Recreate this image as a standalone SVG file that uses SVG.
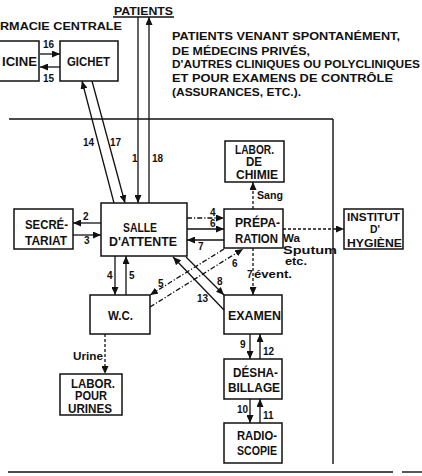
<svg xmlns="http://www.w3.org/2000/svg" width="422" height="476" viewBox="0 0 422 476">
<style>
text{font-family:"Liberation Sans","Arial",sans-serif;fill:#111;font-weight:bold}
.t{font-size:12px}
.tl{font-size:13px}
.ti{font-size:10.5px}
.b{font-size:11px}
.n{font-size:10px}
.s{font-size:10.5px}
rect{fill:#fff;stroke:#111;stroke-width:1.5}
line{stroke:#111;stroke-width:1.3;fill:none}
.dd{stroke-dasharray:5 2 1.2 2}
.da{stroke-dasharray:3 2}
.fr{stroke:#111;stroke-width:1.4}
</style>
<defs>
<marker id="ah" viewBox="0 0 8 7" refX="8" refY="3.5" markerWidth="8" markerHeight="7" markerUnits="userSpaceOnUse" orient="auto"><path d="M0,0 L8,3.5 L0,7 z" fill="#111"/></marker>
</defs>

<g id="frame">
<line class="fr" x1="9" y1="119" x2="333" y2="119"/>
<line class="fr" x1="333" y1="119" x2="333" y2="464"/>
<line class="fr" x1="8" y1="472" x2="393" y2="472"/>
<line class="fr" x1="402" y1="472" x2="422" y2="472"/>
</g>

<g id="header">
<text class="b" x="0" y="30" textLength="122" lengthAdjust="spacingAndGlyphs">RMACIE CENTRALE</text>
<text class="b" x="114" y="14.5" textLength="59" lengthAdjust="spacingAndGlyphs">PATIENTS</text>
<line x1="113" y1="17" x2="174" y2="17"/>
<text class="b" x="172" y="40" textLength="228" lengthAdjust="spacingAndGlyphs">PATIENTS VENANT  SPONTANÉMENT,</text>
<text class="b" x="172" y="54.5" textLength="138" lengthAdjust="spacingAndGlyphs">DE MÉDECINS PRIVÉS,</text>
<text class="b" x="172" y="68" textLength="248" lengthAdjust="spacingAndGlyphs">D'AUTRES CLINIQUES OU POLYCLINIQUES</text>
<text class="b" x="172" y="82" textLength="221" lengthAdjust="spacingAndGlyphs">ET POUR EXAMENS DE CONTRÔLE</text>
<text class="b" x="172" y="95.5" textLength="129" lengthAdjust="spacingAndGlyphs">(ASSURANCES, ETC.).</text>
</g>

<g id="pharmacie">
<rect x="-10" y="41" width="49" height="40"/>
<text class="t" x="2" y="65.5" textLength="35" lengthAdjust="spacingAndGlyphs">ICINE</text>
</g>
<g id="gichet">
<rect x="60" y="41" width="58" height="40"/>
<text class="t" x="67" y="65.5" textLength="43" lengthAdjust="spacingAndGlyphs">GICHET</text>
</g>
<g id="secretariat">
<rect x="14" y="209" width="59" height="40"/>
<text class="t" x="25" y="229" textLength="43" lengthAdjust="spacingAndGlyphs">SECRÉ-</text>
<text class="t" x="25" y="245" textLength="42" lengthAdjust="spacingAndGlyphs">TARIAT</text>
</g>
<g id="salle">
<rect x="101" y="203" width="86" height="53"/>
<text class="tl" x="123" y="232" textLength="34" lengthAdjust="spacingAndGlyphs">SALLE</text>
<text class="tl" x="109" y="246" textLength="68" lengthAdjust="spacingAndGlyphs">D'ATTENTE</text>
</g>
<g id="labor-chimie">
<rect x="225" y="141" width="59" height="41"/>
<text class="t" x="235" y="153.5" textLength="39" lengthAdjust="spacingAndGlyphs">LABOR.</text>
<text class="t" x="246" y="166" textLength="16" lengthAdjust="spacingAndGlyphs">DE</text>
<text class="t" x="236" y="178.5" textLength="42" lengthAdjust="spacingAndGlyphs">CHIMIE</text>
</g>
<g id="preparation">
<rect x="224" y="209" width="59" height="39"/>
<text class="t" x="235" y="227" textLength="45" lengthAdjust="spacingAndGlyphs">PRÉPA-</text>
<text class="t" x="235" y="243" textLength="43" lengthAdjust="spacingAndGlyphs">RATION</text>
</g>
<g id="institut">
<rect x="344" y="209" width="59" height="40"/>
<text class="ti" x="347" y="220.5" textLength="53" lengthAdjust="spacingAndGlyphs">INSTITUT</text>
<text class="ti" x="370" y="233" textLength="10" lengthAdjust="spacingAndGlyphs">D'</text>
<text class="ti" x="347" y="246.5" textLength="55" lengthAdjust="spacingAndGlyphs">HYGIÈNE</text>
</g>
<g id="wc">
<rect x="90" y="295" width="60" height="39"/>
<text class="t" x="108" y="320" textLength="25" lengthAdjust="spacingAndGlyphs">W.C.</text>
</g>
<g id="examen">
<rect x="224" y="295" width="58" height="39"/>
<text class="t" x="228" y="320" textLength="53" lengthAdjust="spacingAndGlyphs">EXAMEN</text>
</g>
<g id="labor-urines">
<rect x="60" y="374" width="62" height="41"/>
<text class="t" x="71" y="387.5" textLength="44" lengthAdjust="spacingAndGlyphs">LABOR.</text>
<text class="t" x="75" y="400" textLength="32" lengthAdjust="spacingAndGlyphs">POUR</text>
<text class="t" x="68" y="412.5" textLength="44" lengthAdjust="spacingAndGlyphs">URINES</text>
</g>
<g id="deshabillage">
<rect x="224" y="359" width="58" height="40"/>
<text class="t" x="233" y="377" textLength="45" lengthAdjust="spacingAndGlyphs">DÉSHA-</text>
<text class="t" x="228" y="392" textLength="52" lengthAdjust="spacingAndGlyphs">BILLAGE</text>
</g>
<g id="radioscopie">
<rect x="224" y="423" width="58" height="40"/>
<text class="t" x="237" y="440" textLength="40" lengthAdjust="spacingAndGlyphs">RADIO-</text>
<text class="t" x="237" y="455" textLength="40" lengthAdjust="spacingAndGlyphs">SCOPIE</text>
</g>

<g id="connectors">
<line x1="40" y1="54" x2="60" y2="54" marker-end="url(#ah)"/>
<line x1="60" y1="67" x2="40" y2="67" marker-end="url(#ah)"/>
<line x1="114" y1="203" x2="82" y2="81" marker-end="url(#ah)"/>
<line x1="92" y1="81" x2="125" y2="203" marker-end="url(#ah)"/>
<line x1="138" y1="17" x2="138" y2="203" marker-end="url(#ah)"/>
<line x1="149" y1="203" x2="149" y2="17" marker-end="url(#ah)"/>
<line x1="101" y1="223" x2="73" y2="223" marker-end="url(#ah)"/>
<line x1="73" y1="235" x2="101" y2="235" marker-end="url(#ah)"/>
<line class="dd" x1="187" y1="218" x2="224" y2="218" marker-end="url(#ah)"/>
<line x1="187" y1="229" x2="224" y2="229" marker-end="url(#ah)"/>
<line x1="224" y1="240" x2="187" y2="240" marker-end="url(#ah)"/>
<line class="da" x1="253" y1="209" x2="253" y2="182" marker-end="url(#ah)"/>
<line class="da" x1="283" y1="229" x2="344" y2="229" marker-end="url(#ah)"/>
<line class="da" x1="253" y1="248" x2="253" y2="295" marker-end="url(#ah)"/>
<line x1="115" y1="256" x2="115" y2="295" marker-end="url(#ah)"/>
<line x1="126" y1="295" x2="126" y2="256" marker-end="url(#ah)"/>
<line x1="186" y1="257" x2="224" y2="295" marker-end="url(#ah)"/>
<line x1="224" y1="310" x2="173" y2="257" marker-end="url(#ah)"/>
<line class="dd" x1="224" y1="249" x2="150" y2="295" marker-end="url(#ah)"/>
<line class="dd" x1="150" y1="307" x2="243" y2="249" marker-end="url(#ah)"/>
<line x1="250" y1="334" x2="250" y2="359" marker-end="url(#ah)"/>
<line x1="260" y1="359" x2="260" y2="334" marker-end="url(#ah)"/>
<line x1="250" y1="399" x2="250" y2="423" marker-end="url(#ah)"/>
<line x1="260" y1="423" x2="260" y2="399" marker-end="url(#ah)"/>
<line class="da" x1="105" y1="334" x2="105" y2="374" marker-end="url(#ah)"/>
</g>

<g id="labels">
<text class="n" x="43" y="48">16</text>
<text class="n" x="43" y="82">15</text>
<text class="n" x="83" y="146">14</text>
<text class="n" x="110" y="146">17</text>
<text class="n" x="132" y="162">1</text>
<text class="n" x="152" y="162">18</text>
<text class="n" x="83" y="220">2</text>
<text class="n" x="84" y="244">3</text>
<text class="n" x="210" y="216">4</text>
<text class="n" x="210" y="227">6</text>
<text class="n" x="198" y="250">7</text>
<text class="s" x="257" y="199" textLength="26" lengthAdjust="spacingAndGlyphs">Sang</text>
<text class="s" x="283" y="242" textLength="17" lengthAdjust="spacingAndGlyphs">Wa</text>
<text class="s" x="283" y="254" textLength="54" lengthAdjust="spacingAndGlyphs">Sputum</text>
<text class="s" x="285" y="265" textLength="22" lengthAdjust="spacingAndGlyphs">etc.</text>
<text class="n" x="232" y="267">6</text>
<text class="n" x="247" y="278">7</text>
<text class="s" x="254" y="278" textLength="38" lengthAdjust="spacingAndGlyphs">évent.</text>
<text class="n" x="217" y="285">8</text>
<text class="n" x="158" y="287">5</text>
<text class="n" x="197" y="302">13</text>
<text class="n" x="107" y="279">4</text>
<text class="n" x="129" y="279">5</text>
<text class="n" x="240" y="348">9</text>
<text class="n" x="263" y="355">12</text>
<text class="n" x="237" y="413">10</text>
<text class="n" x="263" y="419">11</text>
<text class="s" x="73" y="360" textLength="30" lengthAdjust="spacingAndGlyphs">Urine</text>
</g>
</svg>
